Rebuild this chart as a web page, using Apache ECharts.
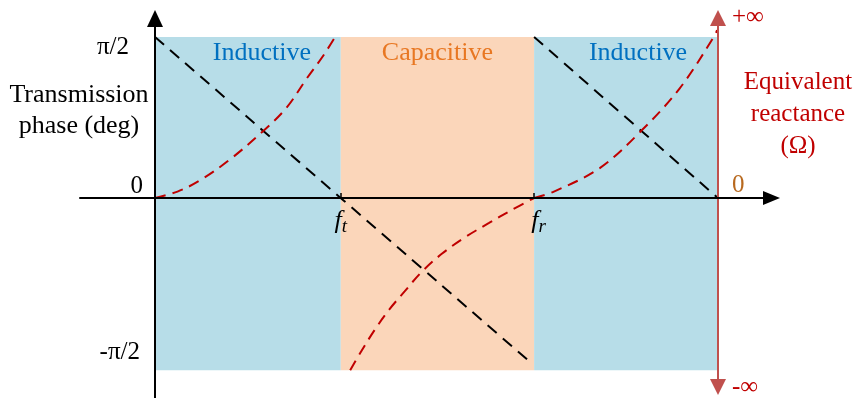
<!DOCTYPE html>
<html>
<head>
<meta charset="utf-8">
<script src="https://cdn.jsdelivr.net/npm/echarts@6/dist/echarts.min.js"></script>
<style>
  html, body { margin: 0; padding: 0; background: #fff; }
  #chart { width: 861px; height: 398px; }
</style>
</head>
<body>
<div id="chart"></div>
<script>
// Frequency axis: origin at 0, transmission zero f_t and resonance f_r, band edge at 3
const fT = 0.99;
const fR = 2.02;
const fEnd = 3.0;

// Phase axis in units of pi/2
const phaseTickValues = [1, 0, -1];
const phaseTickLabels = ['π/2', '0', '-π/2'];
const bandLow = -1.07;
const bandHigh = 1;

// Reactance axis ticks (normalised, ends stand for infinity)
const reactTickValues = [1, 0, -1.05];
const reactTickLabels = ['+∞', '0', '-∞'];

// Regions of the band
const regionNames = ['Inductive', 'Capacitive', 'Inductive'];
const regionFrom = [0, fT, fR];
const regionTo = [fT, fR, fEnd];

// Transmission phase (black dashed)
const phaseA = [[0, 1], [2.01, -1.03]];
const phaseB = [[fR, 1], [fEnd, 0]];

// Equivalent reactance (red dashed)
const reactA = [[0, 0], [0.12, 0.04], [0.24, 0.11], [0.4, 0.24], [0.58, 0.42], [0.7, 0.56], [0.81, 0.745], [0.9, 0.89], [0.97, 1.02]];
const reactB = [[1.04, -1.07], [1.10, -0.95], [1.17, -0.82], [1.25, -0.69], [1.33, -0.58], [1.42, -0.46], [1.53, -0.345], [1.65, -0.245], [1.78, -0.155], [1.90, -0.075], [2.02, 0]];
const reactC = [[2.02, 0], [2.12, 0.037], [2.37, 0.186], [2.595, 0.422], [2.797, 0.683], [2.984, 1.012], [2.995, 1.043]];

const SERIF = 'Liberation Serif, Times New Roman, serif';
const regionFill = ['#B7DDE8', '#FBD6BA', '#B7DDE8'];
const regionText = ['#0070C0', '#E87722', '#0070C0'];
const regionOffset = [[14, 0], [0, 0], [12, 0]];
const redCurve = '#C00000';
const redAxis = '#C0504D';

// Shared scales
const xMin = -0.4, xMax = 3.285;
const yMin = -1.242, yMax = 1.115;

const chart = echarts.init(document.getElementById('chart'), null, { renderer: 'canvas' });

const dashedRed = { color: redCurve, width: 2, type: [11, 7] };
const dashedBlack = { color: '#000', width: 2, type: [12, 8] };

function curve(data, style) {
  return {
    type: 'line', xAxisIndex: 0, yAxisIndex: 0, data: data,
    smooth: 0.35, showSymbol: false, symbol: 'none', z: 4, clip: false,
    lineStyle: style, silent: true
  };
}

const noBounds = { outerBoundsMode: 'none', containLabel: false };

const option = {
  animation: false,
  backgroundColor: '#fff',
  title: [
    {
      text: 'Transmission\nphase (deg)', left: 74, top: 75, textAlign: 'center',
      textStyle: { fontFamily: SERIF, fontSize: 26, fontWeight: 'normal', color: '#000', lineHeight: 31 }
    },
    {
      text: 'Equivalent\nreactance\n(Ω)', left: 793, top: 61, textAlign: 'center',
      textStyle: { fontFamily: SERIF, fontSize: 25, fontWeight: 'normal', color: redCurve, lineHeight: 32 }
    }
  ],
  grid: [
    // plotting area, left edge on the phase axis
    Object.assign({ left: 155, right: 89.5, top: 18.5, bottom: 0 }, noBounds),
    // frequency axis, bottom edge on phase zero
    Object.assign({ left: 80, right: 89.5, top: 18.5, bottom: 200 }, noBounds),
    // reactance axis
    Object.assign({ left: 600, right: 143, top: 18, bottom: 11 }, noBounds)
  ],
  xAxis: [
    { type: 'value', gridIndex: 0, min: 0, max: xMax, show: false },
    {
      type: 'value', gridIndex: 1, min: xMin, max: xMax, z: 10,
      splitLine: { show: false },
      axisLine: {
        onZero: false, symbol: ['none', 'triangle'], symbolSize: [14, 17],
        lineStyle: { color: '#000', width: 2 }
      },
      axisTick: { show: true, inside: true, length: 5, customValues: [fT, fR], lineStyle: { color: '#000', width: 1.5 } },
      axisLabel: {
        show: true, customValues: [fT, fR], margin: 9,
        formatter: function (v) { return v === fT ? '{f|f}{s|t}' : '{g|f}{s|r}'; },
        rich: {
          f: { fontFamily: SERIF, fontStyle: 'italic', fontSize: 26, color: '#000' },
          g: { fontFamily: SERIF, fontStyle: 'italic', fontSize: 26, color: '#000', padding: [0, 0, 0, 9] },
          s: { fontFamily: SERIF, fontStyle: 'italic', fontSize: 19, color: '#000', padding: [10, 0, 0, 0] }
        }
      }
    },
    { type: 'value', gridIndex: 2, show: false, min: 0, max: 1 }
  ],
  yAxis: [
    {
      type: 'value', gridIndex: 0, min: yMin, max: yMax, z: 10,
      splitLine: { show: false },
      axisLine: {
        onZero: false, symbol: ['none', 'triangle'], symbolSize: [16, 17],
        lineStyle: { color: '#000', width: 2 }
      },
      axisTick: { show: false },
      axisLabel: {
        show: true, customValues: phaseTickValues, margin: 12,
        formatter: function (v) {
          const i = phaseTickValues.indexOf(v);
          return '{t' + i + '|' + phaseTickLabels[i] + '}';
        },
        rich: {
          t0: { fontFamily: SERIF, fontSize: 25, color: '#000', padding: [20, 14, 0, 0] },
          t1: { fontFamily: SERIF, fontSize: 25, color: '#000', padding: [0, 0, 24, 0] },
          t2: { fontFamily: SERIF, fontSize: 25, color: '#000', padding: [0, 3, 14, 0] }
        }
      }
    },
    { type: 'value', gridIndex: 1, show: false, min: 0, max: 1 },
    {
      type: 'value', gridIndex: 2, position: 'right', min: -1.05, max: 1, z: 10,
      splitLine: { show: false },
      axisLine: {
        show: true, onZero: false, symbol: ['triangle', 'triangle'], symbolSize: [16, 16],
        lineStyle: { color: redAxis, width: 2 }
      },
      axisTick: { show: false },
      axisLabel: {
        show: true, customValues: reactTickValues, margin: 14,
        formatter: function (v) {
          const i = reactTickValues.indexOf(v);
          return '{r' + i + '|' + reactTickLabels[i] + '}';
        },
        rich: {
          r0: { fontFamily: SERIF, fontSize: 25, color: redCurve, padding: [0, 0, 2, 0] },
          r1: { fontFamily: SERIF, fontSize: 25, color: '#B8691F', padding: [0, 0, 26, 0] },
          r2: { fontFamily: SERIF, fontSize: 25, color: redCurve, padding: [0, 0, 0, 0] }
        }
      }
    }
  ],
  series: [
    {
      type: 'line', xAxisIndex: 0, yAxisIndex: 0, data: [], z: 1, silent: true,
      markArea: {
        silent: true,
        data: regionNames.map(function (name, i) {
          return [
            {
              name: name, xAxis: regionFrom[i], yAxis: bandLow,
              itemStyle: { color: regionFill[i], opacity: 1 },
              label: {
                show: true, position: 'insideTop', distance: 3, offset: regionOffset[i],
                fontFamily: SERIF, fontSize: 26, color: regionText[i]
              }
            },
            { xAxis: regionTo[i], yAxis: bandHigh }
          ];
        })
      }
    },
    curve(phaseA, dashedBlack),
    curve(phaseB, dashedBlack),
    curve(reactA, dashedRed),
    curve(reactB, dashedRed),
    curve(reactC, dashedRed)
  ]
};

chart.setOption(option);
</script>
</body>
</html>
